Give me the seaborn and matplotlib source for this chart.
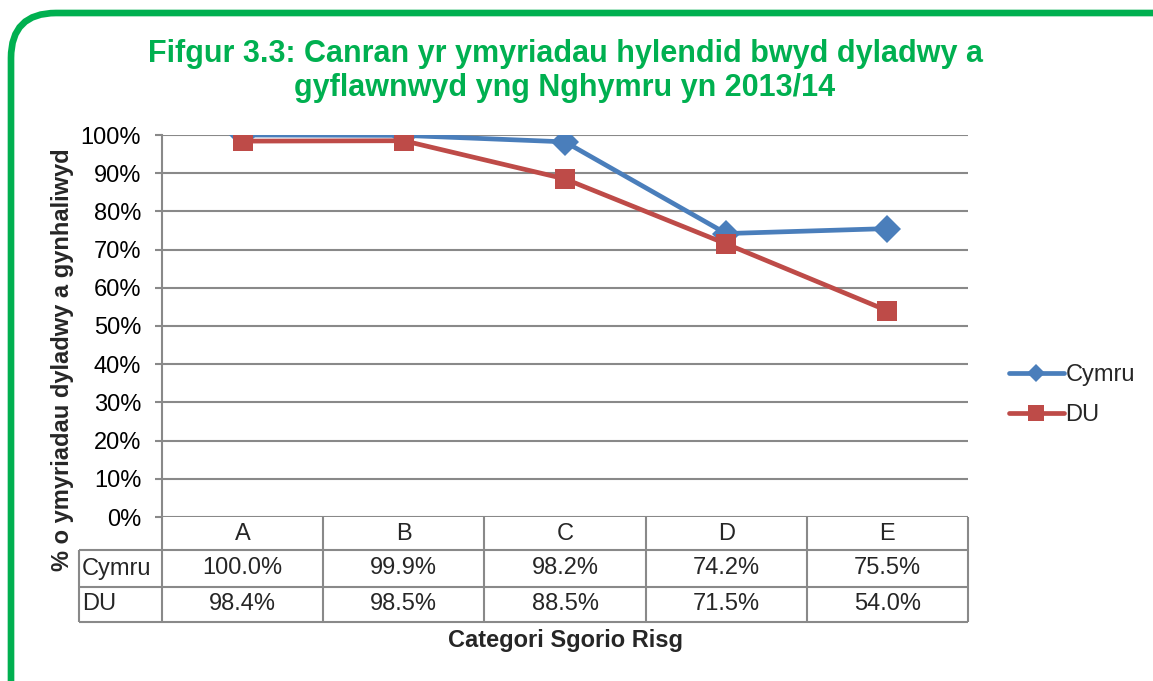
import numpy as np
import pandas as pd
import matplotlib.pyplot as plt
import matplotlib.transforms as mtransforms
import seaborn as sns
from matplotlib.patches import FancyBboxPatch
from matplotlib.ticker import PercentFormatter

# data
categories = ['A', 'B', 'C', 'D', 'E']
cymru = [100.0, 99.9, 98.2, 74.2, 75.5]
du = [98.4, 98.5, 88.5, 71.5, 54.0]
series_names = ['Cymru', 'DU']

df = pd.DataFrame({
    'cat': categories * 2,
    'val': cymru + du,
    'series': ['Cymru'] * len(categories) + ['DU'] * len(categories),
})

sns.set_theme(style='white')
plt.rcParams['font.family'] = ['Liberation Sans', 'DejaVu Sans']

W, H = 1153, 681
fig = plt.figure(figsize=(W / 100, H / 100), dpi=100)
ax_h = 517 - 135
ax = fig.add_axes([162 / W, (H - 517) / H, (968 - 162) / W, ax_h / H])

grey = '#898989'
green = '#00B050'
colors = {'Cymru': '#4A7EBB', 'DU': '#BE4B48'}
fs = 17

sns.lineplot(data=df, x='cat', y='val', hue='series', style='series',
             palette=colors, markers={'Cymru': 'D', 'DU': 's'}, dashes=False,
             linewidth=3.4, markersize=14, markeredgewidth=0, ax=ax)

ax.set_xlim(-0.5, len(categories) - 0.5)
ax.set_ylim(0, 100)
ax.set_yticks(np.arange(0, 101, 10))
ax.yaxis.set_major_formatter(PercentFormatter(decimals=0))
ax.tick_params(axis='y', labelsize=fs, colors='black', length=5, width=1.5,
               direction='out', left=True, pad=10)
ax.tick_params(axis='y', color=grey)
ax.set_xticks([])
ax.set_xlabel('')
ax.set_ylabel('')
ax.yaxis.grid(True, color=grey, linewidth=1.5)
for s in ['top', 'right', 'bottom']:
    ax.spines[s].set_visible(False)
ax.spines['left'].set_color(grey)
ax.spines['left'].set_linewidth(1.5)

# data table under the plot (x in data units, y in axes units)
trans = mtransforms.blended_transform_factory(ax.transData, ax.transAxes)
row_edges = [0, -33 / ax_h, -70 / ax_h, -105 / ax_h]
label_left = -0.5 - (162 - 79) / (968 - 162) * len(categories)
n = len(categories)
line_kw = dict(color=grey, linewidth=1.5, clip_on=False, transform=trans,
               solid_capstyle='butt')
for i in range(n + 1):
    ax.plot([i - 0.5, i - 0.5], [row_edges[0], row_edges[3]], **line_kw)
ax.plot([label_left, label_left], [row_edges[1], row_edges[3]], **line_kw)
for r in row_edges[1:]:
    ax.plot([label_left, n - 0.5], [r, r], **line_kw)

mid = [(row_edges[k] + row_edges[k + 1]) / 2 for k in range(3)]
for i, c in enumerate(categories):
    ax.text(i, mid[0], c, ha='center', va='center', fontsize=fs, transform=trans)
for k, vals in enumerate([cymru, du]):
    ax.text(label_left + 0.02, mid[k + 1], series_names[k], ha='left', va='center',
            fontsize=fs, transform=trans)
    for i, v in enumerate(vals):
        ax.text(i, mid[k + 1], f'{v:.1f}%', ha='center', va='center',
                fontsize=fs, transform=trans)

# legend
handles, labels = ax.get_legend_handles_labels()
leg = ax.legend(handles, labels, loc='center left', frameon=False,
                bbox_to_anchor=(988 / W, (H - 395) / H), bbox_transform=fig.transFigure,
                fontsize=fs, handlelength=2.3, handletextpad=0.08, labelspacing=0.75)
for ln, ms in zip(leg.get_lines(), [9, 11]):
    ln.set_markersize(ms)

fig.text(565 / W, (H - 71) / H,
         'Fifgur 3.3: Canran yr ymyriadau hylendid bwyd dyladwy a\ngyflawnwyd yng Nghymru yn 2013/14',
         ha='center', va='center', fontsize=22, fontweight='bold', color=green,
         linespacing=1.2)
fig.text(63 / W, (H - 360) / H, '% o ymyriadau dyladwy a gynhaliwyd',
         rotation=90, ha='center', va='center', fontsize=fs, fontweight='bold')
fig.text(565 / W, (H - 640) / H, 'Categori Sgorio Risg',
         ha='center', va='center', fontsize=fs, fontweight='bold')

# rounded green frame, running off the right and bottom edges
frame = FancyBboxPatch((11, -60), 1250, H - 13 + 60,
                       boxstyle='round,pad=0,rounding_size=45',
                       transform=None, facecolor='none', edgecolor=green,
                       linewidth=4.8)
fig.patches.append(frame)

fig.savefig('out.png', dpi=100)
